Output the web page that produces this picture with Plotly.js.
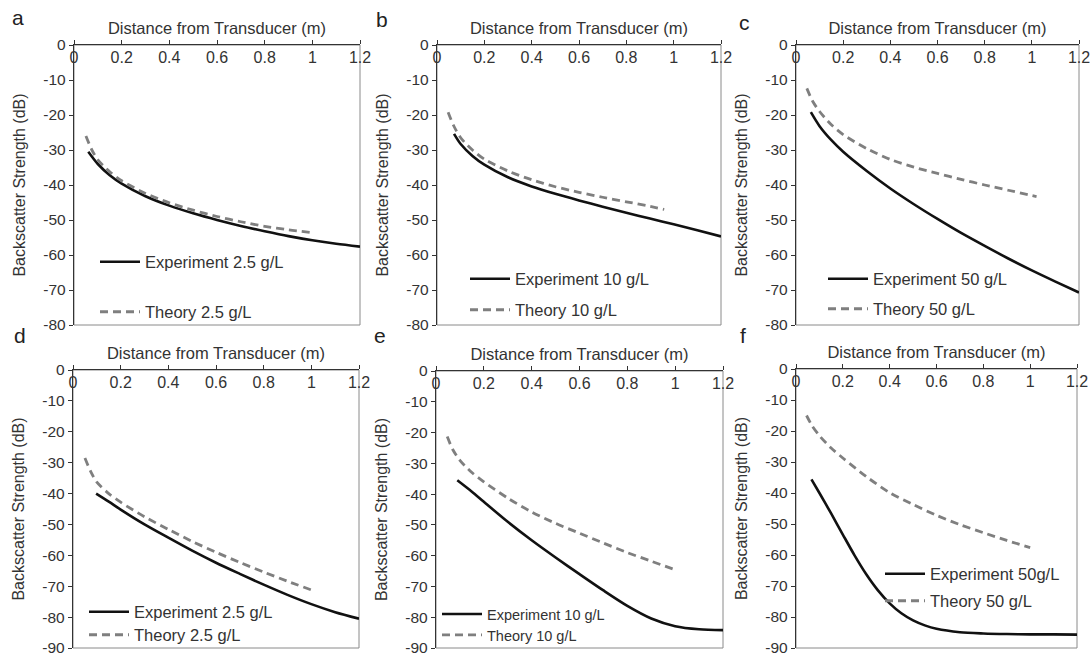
<!DOCTYPE html>
<html>
<head>
<meta charset="utf-8">
<script src="https://cdn.plot.ly/plotly-3.0.1.min.js"></script>
<style>html,body{margin:0;padding:0;background:#fff;}#chart{width:1091px;height:658px;}</style>
</head>
<body>
<div id="chart"></div>
<script>
// ---- data ----
const xTicks = [0, 0.2, 0.4, 0.6, 0.8, 1, 1.2];
const xTickText = ["0", "0.2", "0.4", "0.6", "0.8", "1", "1.2"];
const yTicksTop = [0, -10, -20, -30, -40, -50, -60, -70, -80];
const yTicksBottom = [0, -10, -20, -30, -40, -50, -60, -70, -80, -90];

const panelLetters = ["a", "b", "c", "d", "e", "f"];
const expNames = ["Experiment 2.5 g/L", "Experiment 10 g/L", "Experiment 50 g/L", "Experiment 2.5 g/L", "Experiment 10 g/L", "Experiment 50g/L"];
const thNames = ["Theory 2.5 g/L", "Theory 10 g/L", "Theory 50 g/L", "Theory 2.5 g/L", "Theory 10 g/L", "Theory 50 g/L"];

const aExpX = [0.06, 0.1, 0.15, 0.2, 0.3, 0.4, 0.5, 0.6, 0.7, 0.8, 0.9, 1.0, 1.1, 1.2];
const aExpY = [-30.5, -34, -37.2, -39.6, -43.2, -45.9, -48.1, -50, -51.7, -53.2, -54.6, -55.8, -56.8, -57.6];
const aThX = [0.05, 0.075, 0.1, 0.15, 0.2, 0.3, 0.4, 0.5, 0.6, 0.7, 0.8, 0.9, 1.0];
const aThY = [-26, -30, -32.8, -36.2, -38.8, -42.4, -45.1, -47.2, -49, -50.5, -51.8, -52.8, -53.6];

const bExpX = [0.072, 0.1, 0.15, 0.2, 0.3, 0.4, 0.5, 0.6, 0.7, 0.8, 0.9, 1.0, 1.1, 1.2];
const bExpY = [-25.4, -28.3, -31.7, -34.2, -37.8, -40.4, -42.5, -44.4, -46.2, -47.9, -49.6, -51.2, -52.9, -54.7];
const bThX = [0.047, 0.07, 0.1, 0.15, 0.2, 0.3, 0.4, 0.5, 0.6, 0.7, 0.8, 0.9, 0.96];
const bThY = [-19.2, -23, -26.5, -30, -32.6, -36, -38.5, -40.5, -42.1, -43.5, -44.8, -46.1, -47];

const cExpX = [0.063, 0.1, 0.15, 0.2, 0.3, 0.4, 0.5, 0.6, 0.7, 0.8, 0.9, 1.0, 1.1, 1.2];
const cExpY = [-19.2, -23.2, -27.2, -30.5, -36, -41, -45.5, -49.7, -53.7, -57.4, -61, -64.4, -67.6, -70.7];
const cThX = [0.046, 0.07, 0.1, 0.15, 0.2, 0.3, 0.4, 0.5, 0.6, 0.7, 0.8, 0.9, 1.02];
const cThY = [-12.4, -16, -19, -22.8, -25.6, -29.6, -32.7, -34.9, -36.7, -38.4, -40, -41.5, -43.3];

const dExpX = [0.097, 0.15, 0.2, 0.3, 0.4, 0.5, 0.6, 0.7, 0.8, 0.9, 1.0, 1.1, 1.2];
const dExpY = [-40, -42.6, -45.2, -50, -54.3, -58.5, -62.4, -66, -69.5, -72.8, -75.8, -78.4, -80.5];
const dThX = [0.05, 0.075, 0.1, 0.15, 0.2, 0.3, 0.4, 0.5, 0.6, 0.7, 0.8, 0.9, 1.0];
const dThY = [-28.5, -33, -36.3, -40, -42.8, -47.5, -51.6, -55.5, -59, -62.3, -65.4, -68.4, -71.2];

const eExpX = [0.089, 0.15, 0.2, 0.3, 0.4, 0.5, 0.6, 0.7, 0.8, 0.9, 1.0, 1.1, 1.2];
const eExpY = [-35.5, -39.2, -42.5, -49, -55, -60.6, -66, -71.3, -76.3, -80.4, -82.9, -83.9, -84.2];
const eThX = [0.047, 0.07, 0.1, 0.15, 0.2, 0.3, 0.4, 0.5, 0.6, 0.7, 0.8, 0.9, 0.99];
const eThY = [-21.3, -25.5, -29, -33, -36, -41.3, -45.8, -49.5, -52.7, -55.9, -59, -61.8, -64.3];

const fExpX = [0.066, 0.1, 0.15, 0.2, 0.25, 0.3, 0.35, 0.4, 0.45, 0.5, 0.55, 0.6, 0.7, 0.8, 0.9, 1.0, 1.1, 1.2];
const fExpY = [-35.6, -40, -46.6, -53.4, -60.1, -66.2, -71.4, -75.6, -78.8, -81.1, -82.7, -83.8, -84.9, -85.3, -85.5, -85.6, -85.6, -85.7];
const fThX = [0.045, 0.07, 0.1, 0.15, 0.2, 0.3, 0.4, 0.5, 0.6, 0.7, 0.8, 0.9, 1.0];
const fThY = [-15, -18.5, -21.5, -25.5, -28.7, -34.7, -39.9, -43.7, -47.2, -50.2, -52.8, -55.3, -57.6];

const expX = [aExpX, bExpX, cExpX, dExpX, eExpX, fExpX];
const expY = [aExpY, bExpY, cExpY, dExpY, eExpY, fExpY];
const thX = [aThX, bThX, cThX, dThX, eThX, fThX];
const thY = [aThY, bThY, cThY, dThY, eThY, fThY];

// ---- layout geometry (pixels in a 1091x658 page) ----
const W = 1091, H = 658;
const boxes = [
  {l: 74, r: 360, t: 45, b: 325},
  {l: 437, r: 721, t: 45, b: 325},
  {l: 796, r: 1079, t: 45, b: 325},
  {l: 73, r: 359, t: 370, b: 648},
  {l: 436, r: 723, t: 371, b: 648},
  {l: 796, r: 1077, t: 369, b: 648}
];
// legend rows: sample-line left edge, row centres, font size
const legendPos = [
  {x: 100, y1: 262, y2: 312, size: 16.5},
  {x: 470, y1: 279, y2: 310, size: 16.5},
  {x: 828, y1: 279, y2: 309, size: 16.5},
  {x: 89, y1: 612, y2: 635, size: 16.5},
  {x: 442, y1: 614, y2: 635, size: 14.5},
  {x: 885, y1: 574, y2: 601, size: 16.5}
];
const letterPos = [
  {x: 18, y: 18}, {x: 382, y: 20}, {x: 745, y: 22},
  {x: 20, y: 335}, {x: 380, y: 335}, {x: 743, y: 335}
];

const FONT = "Liberation Sans, Arial, sans-serif";
const textCol = "#333";

const traces = [];
const layout = {
  width: W, height: H,
  margin: {l: 0, r: 0, t: 0, b: 0},
  paper_bgcolor: "#fff", plot_bgcolor: "#fff",
  font: {family: FONT, color: textCol, size: 14},
  showlegend: true,
  annotations: [], shapes: []
};

function legendCfg(x, y, size) {
  return {
    x: (x - 5) / W, y: 1 - y / H,
    xanchor: "left", yanchor: "middle",
    bgcolor: "rgba(0,0,0,0)", borderwidth: 0,
    font: {size: size, color: textCol, family: FONT},
    itemwidth: 40, itemclick: false, itemdoubleclick: false
  };
}

for (let i = 0; i < 6; i++) {
  const n = i === 0 ? "" : String(i + 1);
  const bx = boxes[i];
  const lg = legendPos[i];
  const legA = i === 0 ? "legend" : "legend" + (2 * i + 1);
  const legB = "legend" + (2 * i + 2);
  traces.push({
    x: expX[i], y: expY[i], xaxis: "x" + n, yaxis: "y" + n,
    type: "scatter", mode: "lines", name: expNames[i],
    line: {color: "#111", width: 2.6, shape: "spline", smoothing: 0.8},
    legend: legA
  });
  traces.push({
    x: thX[i], y: thY[i], xaxis: "x" + n, yaxis: "y" + n,
    type: "scatter", mode: "lines", name: thNames[i],
    line: {color: "#7f7f7f", width: 2.8, dash: "8px,5px", shape: "spline", smoothing: 0.8},
    legend: legB
  });
  layout[legA] = legendCfg(lg.x, lg.y1, lg.size);
  layout[legB] = legendCfg(lg.x, lg.y2, lg.size);
  const bottomRow = i >= 3;
  layout["xaxis" + n] = {
    domain: [bx.l / W, bx.r / W],
    anchor: "y" + n, side: "top",
    range: [0, 1.2], tickvals: xTicks, ticktext: xTickText,
    ticks: "outside", ticklen: 4, tickcolor: "#333", tickwidth: 1,
    ticklabelposition: "outside", ticklabelstandoff: -30, ticklabeloverflow: "allow",
    showline: true, linecolor: "#333", linewidth: 1.2,
    showgrid: false, zeroline: false,
    tickfont: {size: 16, color: textCol, family: FONT},
    title: {text: "Distance from Transducer (m)", font: {size: 16.5, color: textCol, family: FONT}, standoff: 10},
    fixedrange: true
  };
  const yt = bottomRow ? yTicksBottom : yTicksTop;
  layout["yaxis" + n] = {
    domain: [1 - bx.b / H, 1 - bx.t / H],
    anchor: "x" + n,
    range: [bottomRow ? -90 : -80, 0],
    tickvals: yt, ticktext: yt.map(v => String(v)),
    ticks: "outside", ticklen: 4, tickcolor: "#333", tickwidth: 1,
    ticklabeloverflow: "allow",
    showline: true, linecolor: "#333", linewidth: 1.2,
    showgrid: false, zeroline: false,
    tickfont: {size: 15.5, color: textCol, family: FONT},
    title: {text: "Backscatter Strength (dB)", font: {size: 16, color: textCol, family: FONT}, standoff: 13},
    fixedrange: true
  };
  layout.shapes.push({
    type: "rect", xref: "x" + n + " domain", yref: "y" + n + " domain",
    x0: 0, x1: 1, y0: 0, y1: 1, line: {color: "#8a8a8a", width: 1}, layer: "below"
  });
  layout.annotations.push({
    text: panelLetters[i], xref: "paper", yref: "paper",
    x: letterPos[i].x / W, y: 1 - letterPos[i].y / H,
    xanchor: "center", yanchor: "middle", showarrow: false,
    font: {size: 21, color: "#222", family: FONT}
  });
}

Plotly.newPlot("chart", traces, layout, {displayModeBar: false, staticPlot: true});
</script>
</body>
</html>
